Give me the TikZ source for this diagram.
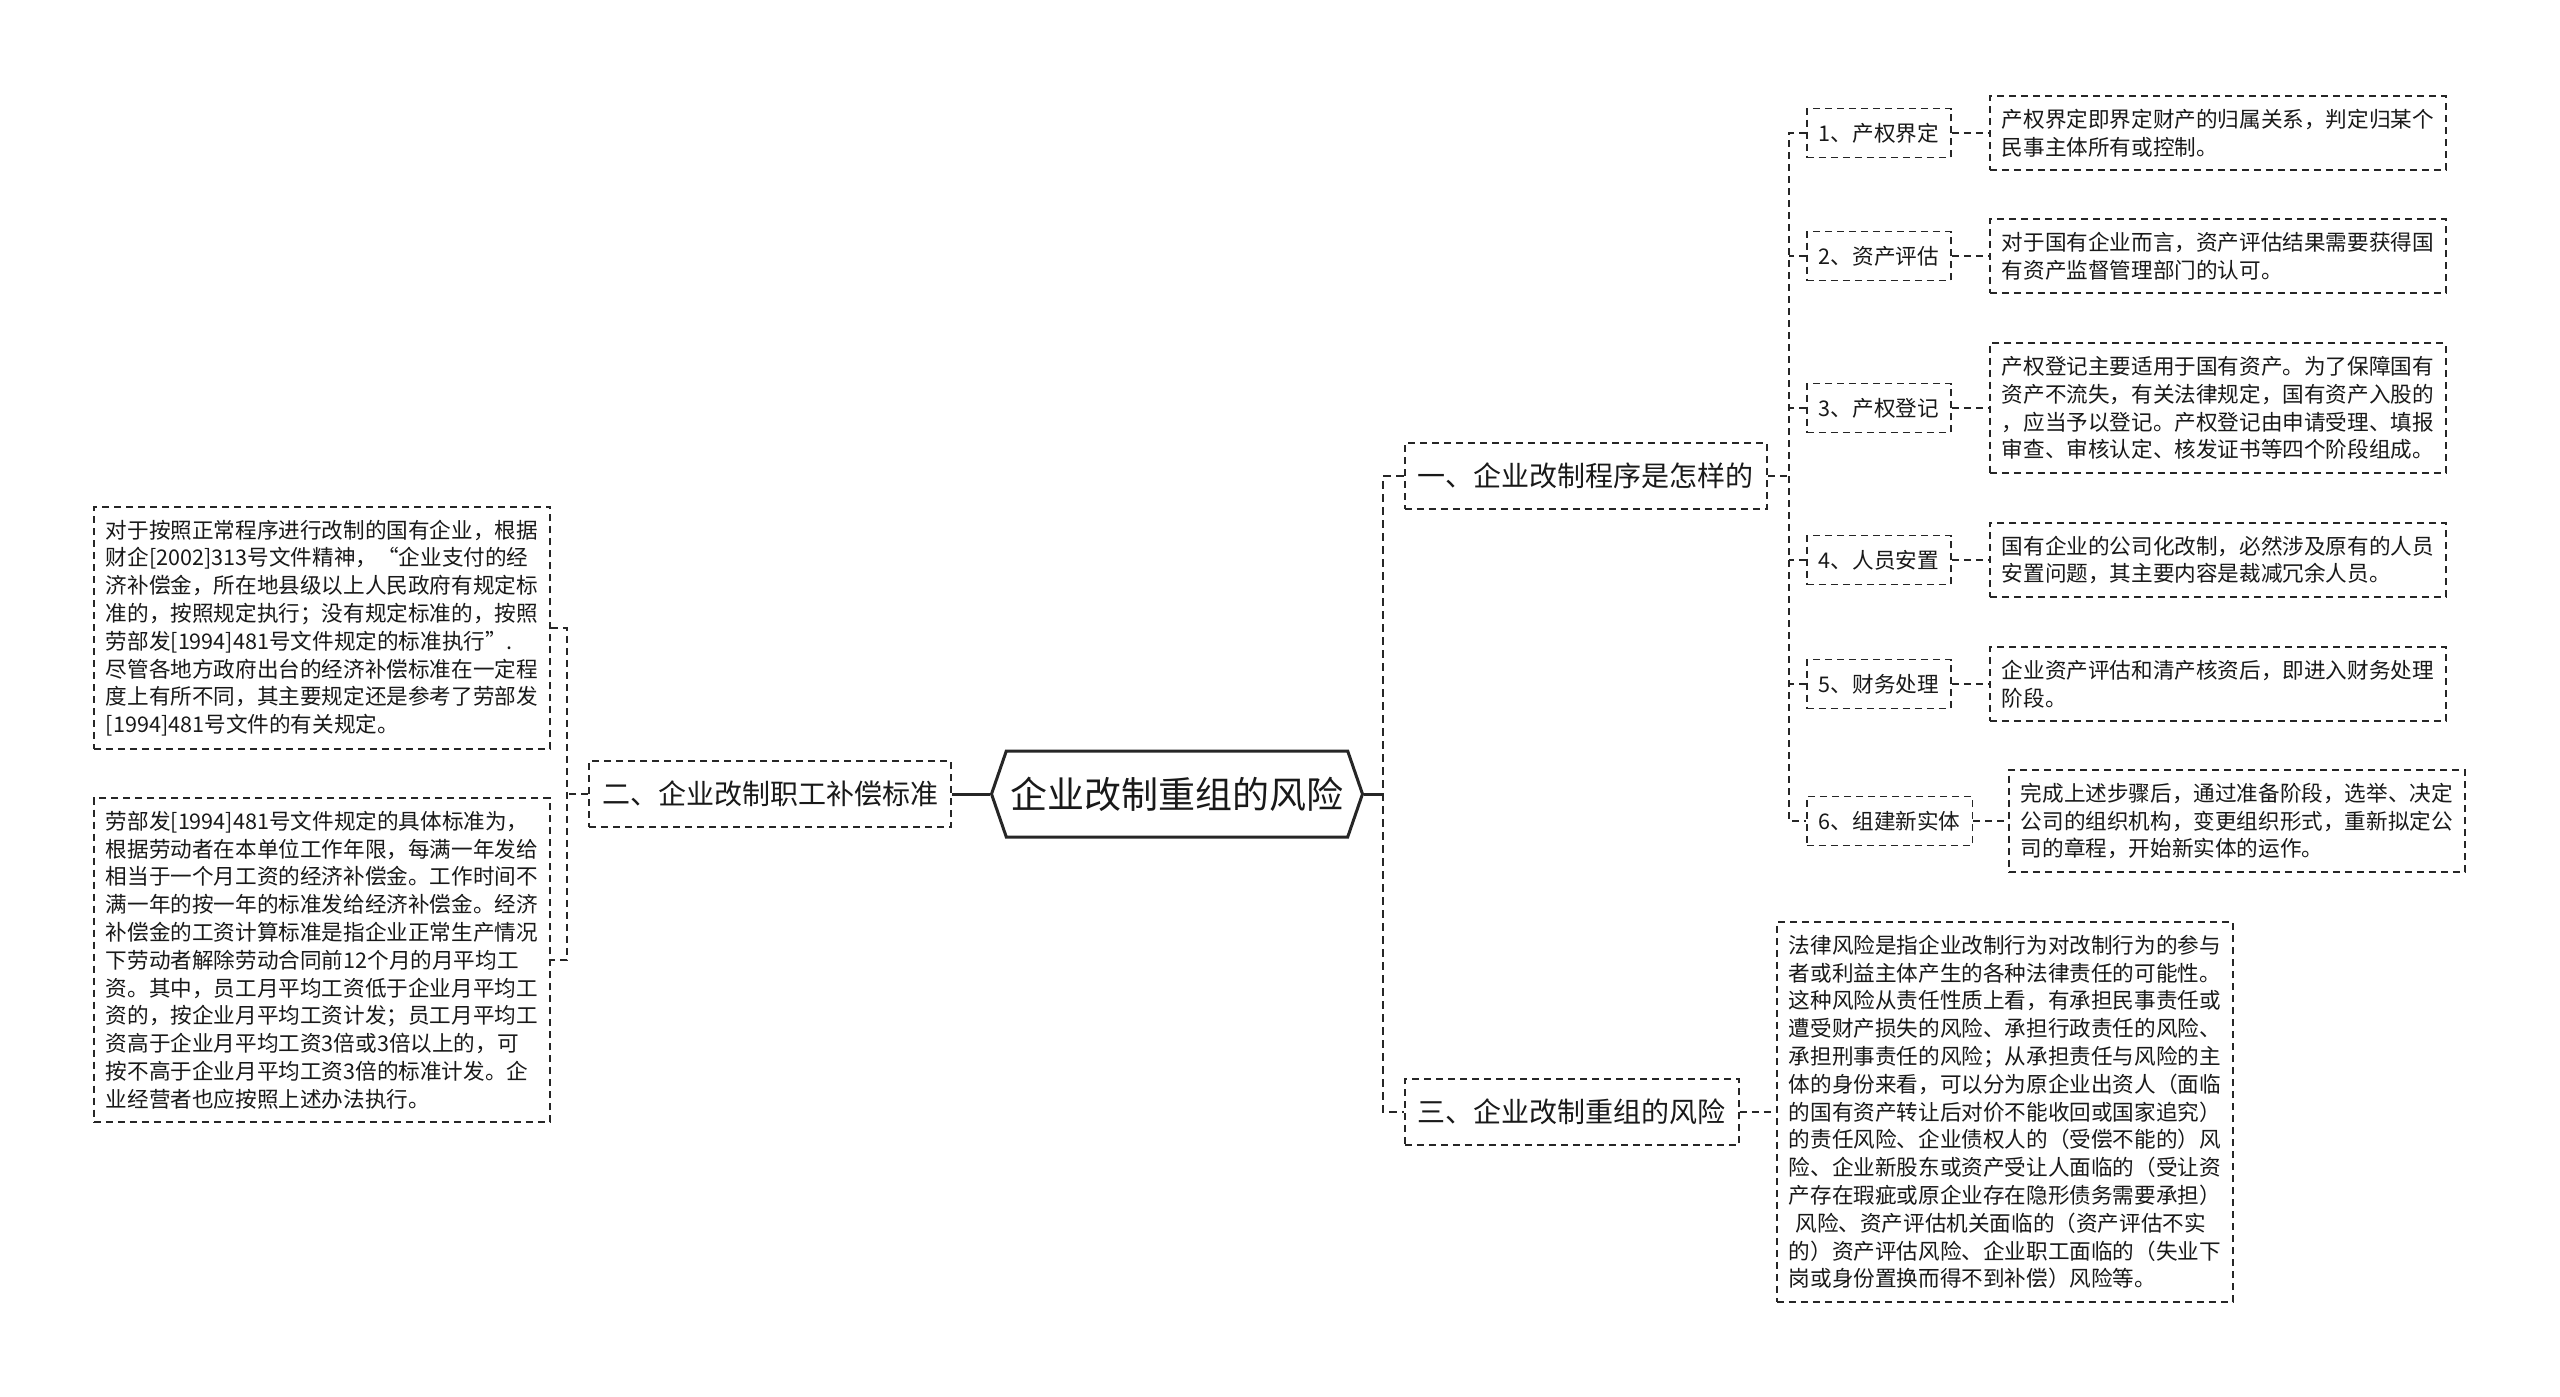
\documentclass[tikz,border=0pt]{standalone}
\usepackage{fontspec}
\usepackage{tikz}
\usetikzlibrary{shapes.symbols}
\newfontfamily\cjk{Noto Sans CJK SC}

\begin{document}
\begin{tikzpicture}[x=1pt, y=-1pt]
\tikzstyle{box}=[draw=black!85, line width=1.8pt, dash pattern=on 7pt off 5pt, text=black!90, inner xsep=12pt]
\tikzstyle{desc}=[box, font=\cjk\fontsize{21.6}{27.8}\selectfont, text width=432pt, align=left, inner ysep=13pt]
\tikzstyle{item}=[box, font=\cjk\fontsize{21.6}{27.8}\selectfont, minimum height=49pt]
\tikzstyle{branch}=[box, font=\cjk\fontsize{28}{34}\selectfont, minimum height=66pt, inner xsep=13pt]
\tikzstyle{link}=[draw=black!85, line width=1.8pt, dash pattern=on 7pt off 5pt]
\tikzstyle{trunk}=[draw=black!85, line width=2.8pt, dash pattern=on 8pt off 5pt]
\tikzstyle{rootlink}=[draw=black!85, line width=3pt]

\fill[white] (0,0) rectangle (2560,1397);
\useasboundingbox (0,0) rectangle (2560,1397);

\node[signal, signal to=west and east, signal pointer angle=142, draw=black!85, line width=3pt, minimum width=371pt, minimum height=86pt, inner sep=0pt, text=black!90, font=\cjk\fontsize{37}{44}\selectfont] (root) at (1177,794) {企业改制重组的风险};

\node[branch, anchor=east] (comp) at (952,794) {二、企业改制职工补偿标准};
\node[branch, anchor=west] (proc) at (1404,476) {一、企业改制程序是怎样的};
\node[branch, anchor=west] (risk) at (1404,1112) {三、企业改制重组的风险};

% left side
\node[desc, anchor=west] (comp1) at (93,628) {对于按照正常程序进行改制的国有企业，根据\\财企[2002]313号文件精神，“企业支付的经\\济补偿金，所在地县级以上人民政府有规定标\\准的，按照规定执行；没有规定标准的，按照\\劳部发[1994]481号文件规定的标准执行”.\\尽管各地方政府出台的经济补偿标准在一定程\\度上有所不同，其主要规定还是参考了劳部发\\{}[1994]481号文件的有关规定。};
\node[desc, anchor=west] (comp2) at (93,960) {劳部发[1994]481号文件规定的具体标准为，\\根据劳动者在本单位工作年限，每满一年发给\\相当于一个月工资的经济补偿金。工作时间不\\满一年的按一年的标准发给经济补偿金。经济\\补偿金的工资计算标准是指企业正常生产情况\\下劳动者解除劳动合同前12个月的月平均工\\资。其中，员工月平均工资低于企业月平均工\\资的，按企业月平均工资计发；员工月平均工\\资高于企业月平均工资3倍或3倍以上的，可\\按不高于企业月平均工资3倍的标准计发。企\\业经营者也应按照上述办法执行。};

% steps
\node[item, anchor=west] (step1) at (1806,133) {1、产权界定};
\node[item, anchor=west] (step2) at (1806,256) {2、资产评估};
\node[item, anchor=west] (step3) at (1806,408) {3、产权登记};
\node[item, anchor=west] (step4) at (1806,560) {4、人员安置};
\node[item, anchor=west] (step5) at (1806,684) {5、财务处理};
\node[item, anchor=west] (step6) at (1806,821) {6、组建新实体};

\node[desc, anchor=west] (info1) at (1989,133) {产权界定即界定财产的归属关系，判定归某个\\民事主体所有或控制。};
\node[desc, anchor=west] (info2) at (1989,256) {对于国有企业而言，资产评估结果需要获得国\\有资产监督管理部门的认可。};
\node[desc, anchor=west] (info3) at (1989,408) {产权登记主要适用于国有资产。为了保障国有\\资产不流失，有关法律规定，国有资产入股的\\，应当予以登记。产权登记由申请受理、填报\\审查、审核认定、核发证书等四个阶段组成。};
\node[desc, anchor=west] (info4) at (1989,560) {国有企业的公司化改制，必然涉及原有的人员\\安置问题，其主要内容是裁减冗余人员。};
\node[desc, anchor=west] (info5) at (1989,684) {企业资产评估和清产核资后，即进入财务处理\\阶段。};
\node[desc, anchor=west] (info6) at (2008,821) {完成上述步骤后，通过准备阶段，选举、决定\\公司的组织机构，变更组织形式，重新拟定公\\司的章程，开始新实体的运作。};

\node[desc, anchor=west] (riskinfo) at (1776,1112) {法律风险是指企业改制行为对改制行为的参与\\者或利益主体产生的各种法律责任的可能性。\\这种风险从责任性质上看，有承担民事责任或\\遭受财产损失的风险、承担行政责任的风险、\\承担刑事责任的风险；从承担责任与风险的主\\体的身份来看，可以分为原企业出资人（面临\\的国有资产转让后对价不能收回或国家追究）\\的责任风险、企业债权人的（受偿不能的）风\\险、企业新股东或资产受让人面临的（受让资\\产存在瑕疵或原企业存在隐形债务需要承担）\\\hspace*{0.3em}风险、资产评估机关面临的（资产评估不实\\的）资产评估风险、企业职工面临的（失业下\\岗或身份置换而得不到补偿）风险等。};

\coordinate (lfork) at (567,794);
\coordinate (rfork) at (1383,794);
\coordinate (sfork) at (1789,476);

\draw[rootlink] (root.west) -- (comp.east);
\draw[rootlink] (root.east) -- (rfork);
\draw[link] (comp.west) -- (lfork);
\draw[link] (comp1.east) -| (lfork) |- (comp2.east);
\draw[trunk] (proc.west) -| (rfork) |- (risk.west);

\draw[link] (proc.east) -- (sfork);
\draw[link] (step1.west) -| (sfork) |- (step6.west);
\foreach \i in {2,...,5} \draw[link] (step\i.west) -- (step\i.west -| sfork);
\foreach \i in {1,...,6} \draw[link] (step\i.east) -- (info\i.west);
\draw[link] (risk.east) -- (riskinfo.west);

\end{tikzpicture}
\end{document}
